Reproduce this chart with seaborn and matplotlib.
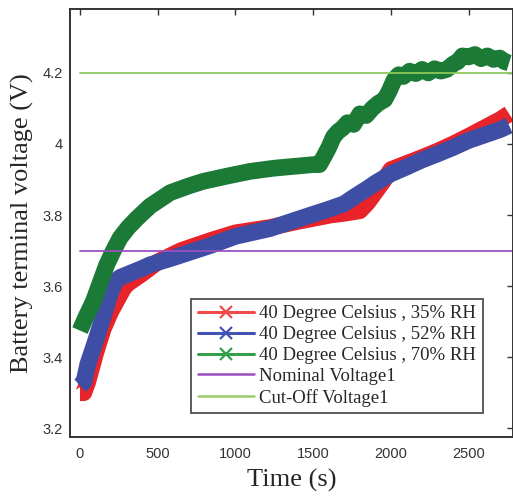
import numpy as np
import pandas as pd
import matplotlib
matplotlib.use("Agg")
import matplotlib.pyplot as plt
import seaborn as sns
from matplotlib.lines import Line2D

# ---- data ----
t_red = [0, 25, 50, 100, 150, 200, 250, 275, 300, 400, 500, 650, 837, 1000, 1223, 1400,
         1610, 1700, 1800, 1850, 1900, 1950, 2000, 2100, 2200, 2300, 2400, 2500, 2600, 2700, 2760]
v_red = [3.300, 3.300, 3.330, 3.410, 3.480, 3.530, 3.570, 3.590, 3.605, 3.635, 3.668, 3.700,
         3.728, 3.750, 3.765, 3.782, 3.800, 3.805, 3.812, 3.835, 3.865, 3.895, 3.928, 3.945,
         3.962, 3.980, 4.000, 4.022, 4.045, 4.068, 4.085]

t_blue = [0, 25, 50, 100, 150, 200, 230, 260, 300, 400, 450, 600, 837, 1000, 1223, 1400,
          1610, 1700, 1760, 1850, 1900, 2000, 2100, 2200, 2300, 2400, 2500, 2600, 2700, 2760]
v_blue = [3.320, 3.330, 3.380, 3.445, 3.515, 3.585, 3.615, 3.625, 3.632, 3.650, 3.660, 3.680,
          3.714, 3.740, 3.762, 3.788, 3.818, 3.832, 3.850, 3.875, 3.890, 3.916, 3.935, 3.955,
          3.972, 3.990, 4.010, 4.025, 4.040, 4.052]

t_green = [0, 40, 86, 130, 172, 215, 258, 310, 365, 450, 580, 700, 794, 950, 1095, 1250,
           1400, 1500, 1540, 1570, 1600, 1630, 1660, 1690, 1720, 1760, 1800, 1840, 1880,
           1920, 1960, 1990, 2020, 2050, 2080, 2120, 2160, 2200, 2240, 2280, 2320, 2360,
           2400, 2430, 2460, 2500, 2540, 2580, 2620, 2660, 2700, 2730, 2760]
v_green = [3.475, 3.515, 3.557, 3.610, 3.660, 3.700, 3.736, 3.765, 3.790, 3.825, 3.863,
           3.882, 3.895, 3.910, 3.923, 3.932, 3.938, 3.942, 3.942, 3.965, 3.990, 4.020,
           4.035, 4.045, 4.060, 4.055, 4.085, 4.080, 4.100, 4.115, 4.125, 4.150, 4.180,
           4.195, 4.190, 4.205, 4.198, 4.210, 4.200, 4.212, 4.205, 4.210, 4.225, 4.232,
           4.248, 4.245, 4.252, 4.240, 4.248, 4.238, 4.242, 4.232, 4.228]

t_ref = [0, 2800]
v_nominal = [3.70, 3.70]
v_cutoff = [4.20, 4.20]

labels = ["40 Degree Celsius , 35% RH", "40 Degree Celsius , 52% RH",
          "40 Degree Celsius , 70% RH", "Nominal Voltage1", "Cut-Off Voltage1"]
x_ticks = [0, 500, 1000, 1500, 2000, 2500]
y_ticks = [3.2, 3.4, 3.6, 3.8, 4.0, 4.2]
y_ticklabels = ["3.2", "3.4", "3.6", "3.8", "4", "4.2"]

# ---- build long-form frames ----
df_series = pd.concat([
    pd.DataFrame({"t": t_red, "v": v_red, "s": labels[0]}),
    pd.DataFrame({"t": t_blue, "v": v_blue, "s": labels[1]}),
    pd.DataFrame({"t": t_green, "v": v_green, "s": labels[2]}),
])
df_ref = pd.concat([
    pd.DataFrame({"t": t_ref, "v": v_nominal, "s": labels[3]}),
    pd.DataFrame({"t": t_ref, "v": v_cutoff, "s": labels[4]}),
])

plot_colors = {labels[0]: "#e8232a", labels[1]: "#3e4ea5", labels[2]: "#1a7a36",
               labels[3]: "#9b4fc0", labels[4]: "#8cc85a"}
legend_colors = ["#f04a4a", "#4452b2", "#35a04c", "#9b4fc0", "#9ccc6a"]

sns.set_style("white")
plt.rcParams["font.family"] = ["Liberation Sans", "DejaVu Sans"]

fig = plt.figure(figsize=(5.13, 4.99), dpi=100)
ax = fig.add_axes([0.1365, 0.124, 0.8635, 0.858])

sns.lineplot(data=df_series, x="t", y="v", hue="s", palette=plot_colors,
             hue_order=labels[:3], linewidth=12, legend=False, ax=ax,
             estimator=None, sort=False, solid_capstyle="butt", solid_joinstyle="round")
sns.lineplot(data=df_ref, x="t", y="v", hue="s", palette=plot_colors,
             hue_order=labels[3:], linewidth=1.3, legend=False, ax=ax,
             estimator=None, sort=False)

ax.set_xlim(-64, 2785)
ax.set_ylim(3.175, 4.38)
ax.set_xticks(x_ticks)
ax.set_xticklabels([str(v) for v in x_ticks])
ax.set_yticks(y_ticks)
ax.set_yticklabels(y_ticklabels)
ax.tick_params(direction="in", length=4, width=1, colors="#333333",
               labelsize=10.5, top=True, right=True, pad=5)
ax.tick_params(axis="x", pad=7)
for sp in ax.spines.values():
    sp.set_color("#333333")
    sp.set_linewidth(1.4)

ax.set_xlabel("Time (s)", family="Liberation Serif", fontsize=19, labelpad=6)
ax.set_ylabel("Battery terminal voltage (V)", family="Liberation Serif", fontsize=19,
              labelpad=6)

handles = []
for i in range(5):
    if i < 3:
        handles.append(Line2D([], [], color=legend_colors[i], lw=2.2, marker="x",
                              markersize=9, markeredgewidth=1.6))
    else:
        handles.append(Line2D([], [], color=legend_colors[i], lw=1.8))
leg = ax.legend(handles, labels, loc="lower right", bbox_to_anchor=(0.932, 0.056),
                borderaxespad=0, frameon=True, fancybox=False, numpoints=1,
                prop={"family": "Liberation Serif", "size": 13.5},
                handlelength=3.0, handletextpad=0.3, labelspacing=0.2,
                borderpad=0.35)
leg.get_frame().set_edgecolor("#333333")
leg.get_frame().set_linewidth(1.4)

fig.savefig("out.png", dpi=100)
